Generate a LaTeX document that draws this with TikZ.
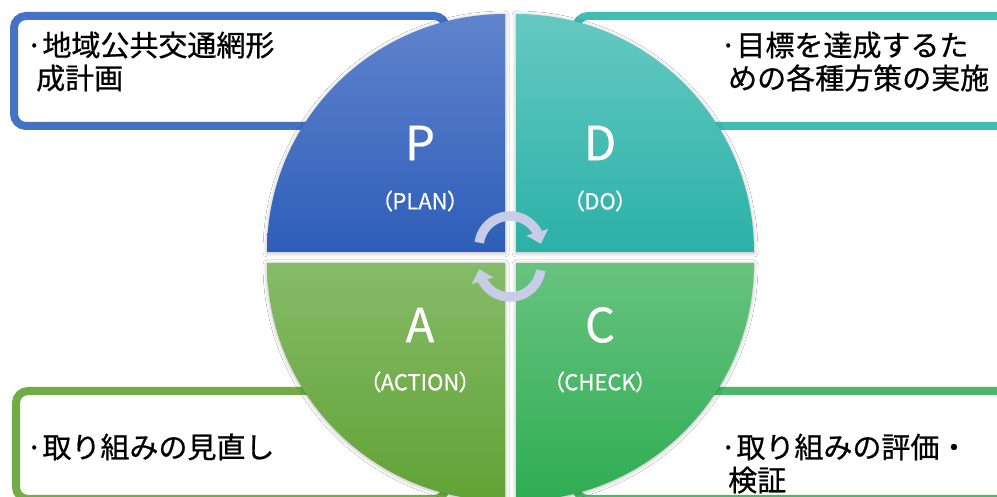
\documentclass[tikz,border=0pt]{standalone}
\usepackage{fontspec}
\setmainfont{Noto Sans CJK JP}
\newfontfamily\jfont[FakeBold=0.7]{Noto Sans CJK JP}
\newfontfamily\pfont[RawFeature=+palt,FakeBold=0.5]{Noto Sans CJK JP}
\newfontfamily\lfont[FakeBold=0.6]{Noto Sans CJK JP}
\usetikzlibrary{arrows.meta,bending,shadows.blur}
\definecolor{bluebox}{HTML}{4472C4}
\definecolor{tealbox}{HTML}{42BDB4}
\definecolor{lgreenbox}{HTML}{70AD47}
\definecolor{cgreenbox}{HTML}{4BB869}
\definecolor{Ptop}{HTML}{6084CD}
\definecolor{Pbot}{HTML}{2E5EB9}
\definecolor{Dtop}{HTML}{66C9C2}
\definecolor{Dbot}{HTML}{2AB1A7}
\definecolor{Atop}{HTML}{86BB68}
\definecolor{Abot}{HTML}{61A236}
\definecolor{Ctop}{HTML}{68C37F}
\definecolor{Cbot}{HTML}{2EAD54}
\definecolor{arrowc}{HTML}{C8CCE6}
\begin{document}
\begin{tikzpicture}[x=1pt,y=1pt,
  boxline/.style={line width=8pt, rounded corners=12pt, fill=white},
  quad/.style={blur shadow={shadow xshift=0pt, shadow yshift=-1pt, shadow blur radius=4pt, shadow opacity=30}},
  bigletter/.style={text=white, inner sep=0pt, font=\lfont\fontsize{47}{47}\selectfont},
  smallletter/.style={text=white, inner sep=0pt, font=\pfont\fontsize{22}{22}\selectfont},
  jtext/.style={anchor=base west, inner sep=0pt, font=\jfont\fontsize{29}{29}\selectfont},
  cyc/.style={draw=arrowc, line width=9.5pt, -{Triangle[width=22pt,length=12pt,flex]}}
]
\useasboundingbox (0,0) rectangle (997,497);
\clip (0,0) rectangle (997,497);
\fill[white] (0,0) rectangle (997,497);
% boxes
\draw[boxline, draw=bluebox] (14,371) rectangle (446,481);
\draw[boxline, draw=tealbox] (576,371) rectangle (1010,481);
\draw[boxline, draw=lgreenbox] (16,-2) rectangle (446,106);
\draw[boxline, draw=cgreenbox] (576,-2) rectangle (1010,106);
% quadrants
\path[quad, top color=Ptop, bottom color=Pbot] (505,245) -- (267,245) arc[start angle=180,end angle=90,radius=238pt] -- cycle;
\path[quad, top color=Dtop, bottom color=Dbot] (516,245) -- (516,483) arc[start angle=90,end angle=0,radius=238pt] -- cycle;
\path[quad, top color=Atop, bottom color=Abot] (505,234) -- (267,234) arc[start angle=180,end angle=270,radius=238pt] -- cycle;
\path[quad, top color=Ctop, bottom color=Cbot] (516,234) -- (754,234) arc[start angle=0,end angle=-90,radius=238pt] -- cycle;
% cycle arrows
\coordinate (ctop) at (510,250);
\coordinate (cbot) at (510,231);
\draw[cyc] (ctop) ++(172:31pt) arc[start angle=172,end angle=6,radius=31pt];
\draw[cyc] (cbot) ++(-8:31pt) arc[start angle=-8,end angle=-174,radius=31pt];
% letters
\node[bigletter] (p) at (420,354) {P};
\node[smallletter] (plan) at (420,296) {（PLAN）};
\node[bigletter] (d) at (600,354) {D};
\node[smallletter] (do) at (600,296) {（DO）};
\node[bigletter] (a) at (420,172) {A};
\node[smallletter] (action) at (420,115) {（ACTION）};
\node[bigletter] (c) at (600,172) {C};
\node[smallletter] (check) at (600,115) {（CHECK）};
% texts
\node[jtext] (tl1) at (26,441) {·地域公共交通網形};
\node[jtext] (tl2) at (36,408) {成計画};
\node[jtext] (tr1) at (720,441) {·目標を達成するた};
\node[jtext] (tr2) at (728,408) {めの各種方策の実施};
\node[jtext] (bl1) at (26,39) {·取り組みの見直し};
\node[jtext] (br1) at (720,39) {·取り組みの評価・};
\node[jtext] (br2) at (728,6) {検証};
\end{tikzpicture}
\end{document}
